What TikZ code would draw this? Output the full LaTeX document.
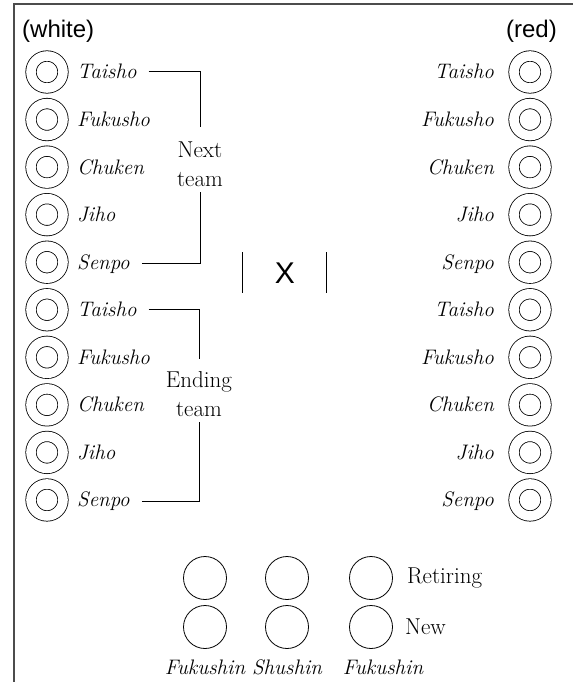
\documentclass[tikz,border=0pt]{standalone}
\usepackage{fontspec}
\newfontfamily\sidefont{Liberation Sans}
\usetikzlibrary{positioning}

\begin{document}
\begin{tikzpicture}[x=1pt, y=-1pt,
    player/.style={circle, draw, double, line width=0.8pt, double distance=9.6pt, minimum size=32pt, inner sep=0pt},
    judge/.style={circle, draw, line width=0.8pt, minimum size=43pt, inner sep=0pt},
    rank/.style={font=\fontsize{21}{25}\selectfont\itshape, inner sep=0pt},
    word/.style={font=\fontsize{23}{29}\selectfont, inner sep=0pt},
    team/.style={font=\fontsize{23}{29}\selectfont, align=center, inner sep=5pt},
    side/.style={font=\fontsize{24}{28}\sidefont, inner sep=0pt},
    bracket/.style={draw, line width=0.8pt, shorten <=12pt},
    bar/.style={draw, line width=0.9pt},
    frame/.style={draw, line width=1.4pt, black!70},
]
\useasboundingbox (0,0) rectangle (573,682);
\draw[frame] (14,682) |- (573,4);

\node[side, anchor=west] (white) at (22,31) {(white)};
\node[side, anchor=east] (red) at (557,31) {(red)};

\foreach \name [count=\i] in {Taisho,Fukusho,Chuken,Jiho,Senpo,Taisho,Fukusho,Chuken,Jiho,Senpo} {
    \pgfmathsetmacro\yy{72+47.55*(\i-1)}
    \node[player] (w\i) at (47,\yy) {};
    \node[rank, anchor=base west] (wl\i) at (77,\yy+7) {\name};
    \node[player] (r\i) at (530,\yy) {};
    \node[rank, anchor=base east] (rl\i) at (494,\yy+7) {\name};
}

\node[team] (next) at (200,164) {Next\\team};
\draw[bracket, shorten >=9pt] (wl1.east) -| (next.north);
\draw[bracket] (wl5.east) -| (next.south);

\node[team] (ending) at (199,394) {Ending\\team};
\draw[bracket, shorten >=7pt] (wl6.east) -| (ending.north);
\draw[bracket] (wl10.east) -| (ending.south);

\node[font=\fontsize{30}{30}\sidefont, inner sep=0pt] (vs) at (285,273) {X};
\draw[bar] (242,252) -- (242,293);
\draw[bar] (326,252) -- (326,293);

\foreach \x/\n in {205/a,287/b,371/c} {
    \node[judge] (old\n) at (\x,578) {};
    \node[judge] (new\n) at (\x,627) {};
}
\node[word, right=14pt of oldc] (retiring) {Retiring};
\node[word, right=12pt of newc] (newlbl) {New};
\node[rank, below=11pt of newa] (fuku1) {Fukushin};
\node[rank, below=11pt of newb] (shu) {Shushin};
\node[rank, below=11pt of newc, xshift=12pt] (fuku2) {Fukushin};
\end{tikzpicture}
\end{document}
